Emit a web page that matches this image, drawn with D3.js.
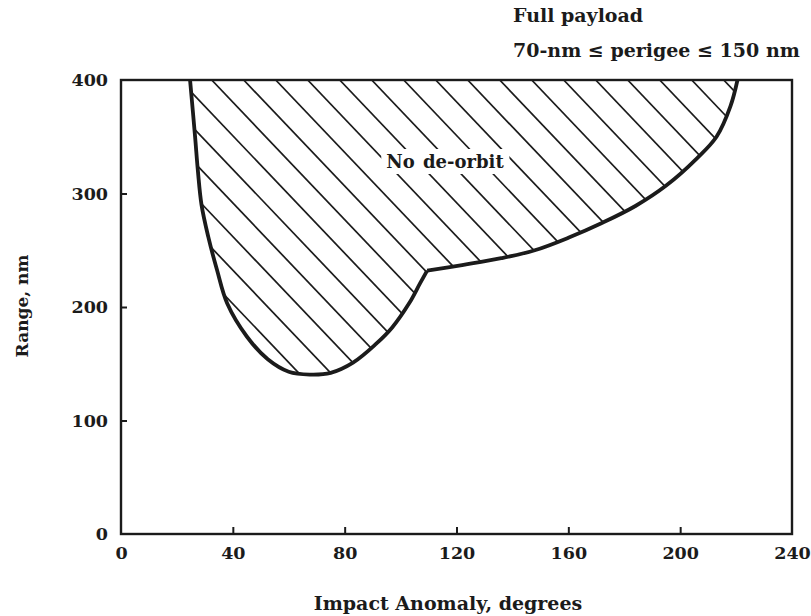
<!DOCTYPE html>
<html>
<head>
<meta charset="utf-8">
<script src="https://cdn.jsdelivr.net/npm/d3@7"></script>
<style>
  html, body { margin: 0; padding: 0; background: #fff; }
  svg { display: block; }
  text { font-family: "DejaVu Serif", "Liberation Serif", serif; fill: #1b1b1b; }
</style>
</head>
<body>
<svg id="chart" width="811" height="616"></svg>
<script>
// Impact anomaly (degrees) and range (nm) along the boundary of the no de-orbit region.
// Lower-left branch: from the top edge down through the minimum up to the corner.
const leftBranchAnomaly = [24.7, 26.5, 27.5, 28.8, 31.2, 34.3, 38, 45, 52.5, 60, 67.5, 75, 83, 91, 97, 103, 107, 109.5];
const leftBranchRange   = [400, 350, 320, 290, 262, 233, 203, 174, 154, 143, 140.5, 142, 151, 167, 182, 203, 221, 232];
// Upper-right branch: from the corner out to the top edge.
const rightBranchAnomaly = [109.5, 122, 136, 148, 160, 172, 184, 195, 206, 213, 218, 220.5];
const rightBranchRange   = [232, 237, 243, 250, 261, 274, 289, 307, 331, 350, 377, 400];

const xTicks = [0, 40, 80, 120, 160, 200, 240];
const yTicks = [0, 100, 200, 300, 400];

const titleLines = ["Full payload", "70-nm \u2264 perigee \u2264 150 nm"];
const regionLabel = "No de-orbit";
const xTitle = "Impact Anomaly, degrees";
const yTitle = "Range, nm";

const ink = "#1b1b1b";
const svg = d3.select("#chart");
const plotLeft = 121, plotRight = 792, plotTop = 80, plotBottom = 534;

const x = d3.scaleLinear().domain([0, 240]).range([plotLeft, plotRight]);
const y = d3.scaleLinear().domain([0, 400]).range([plotBottom, plotTop]);

const leftPts = leftBranchAnomaly.map((a, i) => [a, leftBranchRange[i]]);
const rightPts = rightBranchAnomaly.map((a, i) => [a, rightBranchRange[i]]);

const line = d3.line().x(d => x(d[0])).y(d => y(d[1])).curve(d3.curveCatmullRom.alpha(0.5));

const leftD = line(leftPts);
const rightD = line(rightPts);
// Closed region: both branches, then back along the top edge.
const regionD = leftD + rightD.replace(/^M/, "L") + "Z";

svg.append("defs").append("clipPath").attr("id", "region-clip")
  .append("path").attr("d", regionD);

// Diagonal hatching of the region
const hatch = svg.append("g").attr("clip-path", "url(#region-clip)");
const slope = 1.05, step = 32, phase = 211.7;
for (let x0 = phase - step * 20; x0 < plotRight + 50; x0 += step) {
  hatch.append("line")
    .attr("x1", x0).attr("y1", plotTop)
    .attr("x2", x0 + (plotBottom - plotTop) / slope).attr("y2", plotBottom)
    .attr("stroke", ink).attr("stroke-width", 1.7);
}

// Region label on a white backing
const labelGroup = svg.append("g");
const lbl = labelGroup.append("text")
  .attr("x", 445).attr("y", 168)
  .attr("text-anchor", "middle")
  .style("font-size", "18px")
  .style("font-weight", "bold")
  .style("word-spacing", "2px")
  .text(regionLabel);
const bb = lbl.node().getBBox();
labelGroup.insert("rect", "text")
  .attr("x", bb.x - 5).attr("y", bb.y - 2)
  .attr("width", bb.width + 10).attr("height", bb.height + 4)
  .attr("fill", "#fff");

// Frame
svg.append("rect")
  .attr("x", plotLeft).attr("y", plotTop)
  .attr("width", plotRight - plotLeft).attr("height", plotBottom - plotTop)
  .attr("fill", "none").attr("stroke", ink).attr("stroke-width", 2.4);

// Boundary curve
[leftD, rightD].forEach(d => {
  svg.append("path").attr("d", d)
    .attr("fill", "none").attr("stroke", ink).attr("stroke-width", 3.8)
    .attr("stroke-linejoin", "round");
});

// Axes with inward ticks
const xAxis = svg.append("g")
  .attr("transform", `translate(0,${plotBottom})`)
  .call(d3.axisBottom(x).tickValues(xTicks).tickSize(-7).tickPadding(13).tickFormat(d3.format("d")));
const yAxis = svg.append("g")
  .attr("transform", `translate(${plotLeft},0)`)
  .call(d3.axisLeft(y).tickValues(yTicks).tickSize(-6).tickPadding(13).tickFormat(d3.format("d")));

[xAxis, yAxis].forEach(g => {
  g.select(".domain").remove();
  g.selectAll(".tick line").attr("stroke", ink).attr("stroke-width", 2);
  g.selectAll(".tick text")
    .style("font-family", "'DejaVu Serif', serif")
    .style("font-size", "17.5px")
    .style("font-weight", "bold")
    .attr("fill", ink);
});
// Corner ticks coincide with the frame
xAxis.selectAll(".tick").filter(d => d === 0 || d === 240).select("line").remove();
yAxis.selectAll(".tick").filter(d => d === 0 || d === 400).select("line").remove();

// Axis titles
svg.append("text")
  .attr("x", 448).attr("y", 610)
  .attr("text-anchor", "middle")
  .style("font-size", "19px").style("font-weight", "bold")
  .text(xTitle);
svg.append("text")
  .attr("transform", "translate(28,306) rotate(-90)")
  .attr("text-anchor", "middle")
  .style("font-size", "17px").style("font-weight", "bold")
  .text(yTitle);

// Condition note
svg.append("text")
  .attr("x", 513).attr("y", 22)
  .style("font-size", "19px").style("font-weight", "bold")
  .text(titleLines[0]);
svg.append("text")
  .attr("x", 513).attr("y", 57)
  .style("font-size", "19px").style("font-weight", "bold")
  .text(titleLines[1]);
</script>
</body>
</html>
